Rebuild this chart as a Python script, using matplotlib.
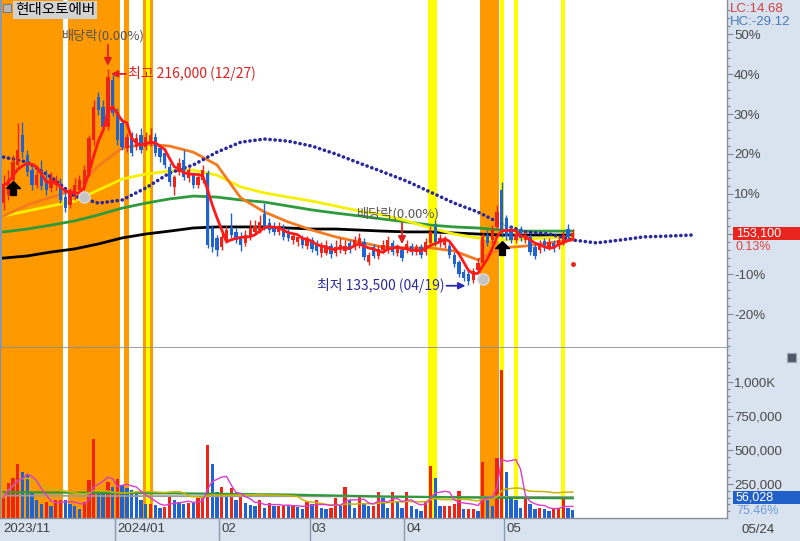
import numpy as np
import pandas as pd
import matplotlib
matplotlib.use("Agg")
import matplotlib.pyplot as plt
from matplotlib.patches import Rectangle
from matplotlib.transforms import offset_copy

plt.rcParams['font.family'] = ['Noto Sans CJK KR', 'DejaVu Sans']
NUM = ['Liberation Sans', 'DejaVu Sans']

# ---------------- data ----------------
stock_name = '현대오토에버'
holidays = ['2023-12-25', '2023-12-29', '2024-01-01', '2024-02-09', '2024-02-12',
            '2024-03-01', '2024-04-10', '2024-05-01', '2024-05-06', '2024-05-15']
dates = [d for d in pd.bdate_range('2023-11-24', '2024-05-24')
         if d.strftime('%Y-%m-%d') not in holidays]

opens = [164700, 167800, 173500, 179300, 190700, 183100, 177300, 171600, 176600, 173500,
         170500, 171600, 170900, 167000, 164000, 167800, 169700, 170900, 176200, 188800,
         205200, 201400, 193800, 211700, 199500, 195300, 185800, 189600, 186100, 190700,
         186100, 187700, 190000, 185800, 183800, 178500, 170900, 176600, 181200, 174300,
         175400, 171600, 173500, 176200, 155200, 151400, 147900, 150600, 155600, 153700,
         152100, 149500, 151800, 153700, 154400, 160500, 157100, 156000, 153700, 155200,
         153700, 150600, 149800, 151400, 148300, 150600, 149100, 145600, 145600, 148300,
         145600, 146800, 146400, 149500, 147900, 148700, 149800, 142200, 147900, 144500,
         146800, 146800, 149500, 145600, 146800, 146800, 148300, 146000, 147900, 146000,
         149500, 155600, 149500, 148700, 148300, 144900, 142200, 138400, 137600, 135300,
         139100, 141800, 152500, 150600, 155600, 169700, 159000, 154400, 150600, 154800,
         150600, 151800, 147900, 146800, 150200, 147900, 149500, 148300, 149800, 154800,
         151800]
highs = [175400, 177300, 183100, 195300, 195700, 185000, 179300, 177300, 181200, 177300,
         176600, 175400, 174300, 169700, 170500, 174300, 175400, 179300, 190700, 204100,
         207200, 204100, 216000, 213600, 201000, 197200, 191500, 191900, 191500, 193400,
         191900, 193400, 191500, 186900, 185800, 180000, 175400, 181900, 185000, 178500,
         176600, 176200, 179300, 177300, 156300, 152500, 153300, 155900, 160900, 155200,
         153700, 154400, 158200, 158200, 160200, 164700, 159000, 157500, 157500, 156700,
         155200, 153700, 153000, 152500, 152100, 151800, 150600, 149800, 150600, 149500,
         150600, 151400, 150600, 150600, 152100, 153300, 151400, 146000, 149100, 148700,
         150600, 152100, 150600, 149100, 147900, 150600, 149500, 149100, 149100, 151400,
         156000, 158200, 152900, 152100, 149500, 146000, 143000, 139500, 139100, 140000,
         143700, 153300, 154400, 156300, 164000, 172800, 160200, 155900, 154400, 156000,
         154100, 152900, 149100, 150600, 151400, 151400, 150600, 152100, 154100, 156700,
         154800]
lows = [162100, 165900, 171600, 178900, 182000, 175000, 169700, 170500, 169700, 167800,
        168900, 169700, 164700, 161300, 162800, 165900, 168500, 169700, 175000, 186900,
        198400, 192600, 192600, 198000, 186900, 185000, 184200, 182700, 185000, 183800,
        185000, 186500, 182700, 180400, 178100, 171200, 167800, 175400, 173500, 172800,
        170500, 170500, 172400, 147600, 146000, 144500, 146800, 149500, 151400, 149500,
        146400, 148300, 150600, 152500, 153300, 154400, 153300, 152500, 152500, 150600,
        150200, 149100, 148300, 147600, 147200, 146000, 144900, 144100, 144900, 143700,
        144500, 145600, 145200, 145600, 146800, 147600, 143000, 141100, 143700, 143300,
        145600, 145600, 144900, 144500, 142600, 145600, 144900, 144900, 143700, 144900,
        148300, 148300, 147900, 147600, 143700, 140300, 136500, 134900, 133500, 134200,
        137900, 140700, 148300, 149500, 154800, 151800, 150600, 149500, 149500, 150200,
        149500, 144900, 143300, 145600, 146400, 146800, 146000, 147200, 148700, 150600,
        150600]
closes = [171600, 173500, 180400, 185000, 184200, 176600, 171600, 175400, 171200, 169700,
          174300, 173500, 165900, 162800, 168900, 171600, 173500, 177300, 189600, 201400,
          200300, 193800, 212900, 199100, 188800, 186100, 190000, 183800, 189600, 185000,
          190000, 190700, 183800, 182300, 179300, 172800, 174700, 180000, 174700, 177300,
          171600, 174700, 177300, 148700, 147900, 146800, 151800, 154400, 152500, 150600,
          148700, 152500, 155200, 156000, 157500, 155600, 154400, 153700, 156000, 151800,
          151400, 152100, 151800, 148700, 150600, 147200, 146400, 148300, 147900, 145200,
          147900, 148700, 148300, 146800, 150600, 151400, 144100, 144900, 144500, 147200,
          148700, 150600, 146000, 147600, 143700, 149100, 146000, 147900, 144900, 149800,
          153700, 149800, 151400, 150600, 144900, 141500, 137600, 136100, 134900, 138800,
          141800, 151800, 149500, 154400, 161300, 153700, 152100, 150600, 152900, 151400,
          152500, 146000, 144500, 149500, 147600, 149800, 147200, 150600, 152500, 151800,
          153100]
volumes = [150000, 260000, 295000, 395000, 340000, 318000, 182000, 130000, 106000, 114000,
           91000, 129000, 136000, 129000, 106000, 91000, 68000, 120000, 280000, 583000,
           190000, 182000, 265000, 227000, 288000, 240000, 220000, 205000, 190000, 129000,
           106000, 106000, 95000, 76000, 83000, 151000, 136000, 114000, 106000, 110000,
           108000, 144000, 151000, 538000, 400000, 190000, 227000, 175000, 220000, 130000,
           151000, 110000, 95000, 86000, 129000, 76000, 110000, 91000, 91000, 95000,
           88000, 91000, 84000, 68000, 114000, 106000, 129000, 76000, 68000, 76000,
           144000, 91000, 227000, 129000, 76000, 151000, 106000, 91000, 91000, 190000,
           144000, 76000, 190000, 120000, 76000, 190000, 91000, 68000, 55000, 120000,
           386000, 295000, 91000, 91000, 91000, 106000, 197000, 68000, 68000, 68000,
           55000, 410000, 130000, 91000, 440000, 1090000, 340000, 150000, 130000, 76000,
           144000, 106000, 68000, 76000, 68000, 55000, 76000, 76000, 144000, 74250,
           56028]

ref_price = 152900            # 0 % line of the right-hand scale
ex_div_days = [22, 84]
buy_days, buy_prices = [2, 105], [170500, 147600]
sell_days, sell_prices = [17, 101], [167000, 135700]
stop_days, stop_prices = [120], [141400]

orange_bands = [(-1, 12), (14, 24), (26, 26), (30, 31), (101, 104)]
yellow_bands = [(30, 31), (90, 91), (105, 105), (108, 108), (118, 118)]

# moving averages every 5 sessions
ma_days = list(range(0, 121, 5))
ma_orange = [159800, 164000, 167000, 169700, 178900, 185800, 187300, 186500, 184200, 179300,
             166700, 161300, 157500, 154400, 151800, 149800, 147900, 147600, 147600, 146400,
             143000, 147600, 148300, 149500, 150600]
ma_yellow = [159800, 161700, 163600, 165500, 169700, 173900, 175800, 177000, 177300, 175400,
             170900, 168600, 167000, 165500, 163600, 161700, 160200, 157900, 155200, 152900,
             151400, 150600, 151000, 151400, 151800]
ma_green = [153700, 154800, 156300, 157900, 160200, 162800, 164700, 166300, 167400, 167000,
            165900, 165100, 163600, 162100, 160900, 159800, 158600, 157500, 156300, 155600,
            155200, 154400, 154000, 154000, 154000]
ma_black = [143700, 144500, 146000, 147200, 149100, 151400, 152900, 154000, 155200, 155600,
            155600, 155600, 155200, 154800, 154800, 154400, 154000, 153700, 153700, 153300,
            152900, 152500, 152500, 152500, 152500]
span_days = list(range(0, 146, 5))
span_line = [182300, 180400, 174700, 167400, 164700, 165900, 170500, 176200, 179300, 184200,
             188000, 189200, 188400, 186500, 183500, 180000, 176600, 173100, 168900, 164700,
             161300, 156700, 153700, 152900, 150600, 149500, 150600, 151800, 152100, 152500]
vol_ma_days = [0, 20, 40, 60, 80, 100, 120]
vol_ma_green = [190000, 185000, 180000, 172000, 158000, 150000, 145000]
vol_ma_gray = [165000, 162000, 160000, 160000, 157000, 155000, 155000]

lc_text, hc_text = 'LC:14.68', 'HC:-29.12'

# ---------------- colours ----------------
RED, BLUE = '#ee2418', '#1f63d0'
ORANGE, YELLOW = '#ff9900', '#ffff00'
PANEL = '#d9e3ef'
TXT = '#4a4a4a'

W, H = 800, 541


def box(x0, y0, x1, y1):
    return [x0 / W, 1 - y1 / H, (x1 - x0) / W, (y1 - y0) / H]


fig = plt.figure(figsize=(W / 100, H / 100), dpi=100, facecolor=PANEL)
ax = fig.add_axes(box(0, 0, 727, 348))
axv = fig.add_axes(box(0, 348, 727, 518), sharex=ax)
axx = fig.add_axes(box(0, 518, 727, 541), sharex=ax)

x = np.arange(len(closes))
o, h, l, c = map(np.array, (opens, highs, lows, closes))
vol = np.array(volumes)

# signal bands
for a, b in orange_bands:
    for axis in (ax, axv):
        axis.axvspan(a - 0.5, b + 0.5, color=ORANGE, lw=0, zorder=0)
for a, b in yellow_bands:
    inner = any(oa <= a and b <= ob for oa, ob in orange_bands)
    pad = 0.55 if inner else 0.05
    for axis in (ax, axv):
        axis.axvspan(a - 0.5 + pad, b + 0.5 - pad, color=YELLOW, lw=0, zorder=0.5)

# moving averages
ax.plot(ma_days, ma_black, color='black', lw=2, zorder=2)
ax.plot(ma_days, ma_green, color='#2f9a3c', lw=2, zorder=2)
ax.plot(ma_days, ma_yellow, color='#f4f000', lw=2, zorder=2)
ax.plot(ma_days, ma_orange, color='#f47a20', lw=2, zorder=2)
ax.plot(span_days, span_line, color='#2a2a9c', lw=2.6, ls=(0, (0.05, 1.35)),
        dash_capstyle='round', zorder=2.5)

# candles
up = c >= o
col = np.where(up, RED, BLUE)
ax.vlines(x, l, h, colors=col, lw=1, zorder=3)
ax.bar(x, np.maximum(np.abs(c - o), 350), bottom=np.minimum(o, c), width=0.7,
       color=col, lw=0, zorder=3.1)
ax.plot(x, pd.Series(c).rolling(5, min_periods=1).mean(), color='#ff1a1a', lw=2, zorder=4)

# signals
arrow_up = [(0, 1), (-1, 0), (-0.42, 0), (-0.42, -1), (0.42, -1), (0.42, 0), (1, 0), (0, 1)]
ax.plot(buy_days, buy_prices, ls='none', marker=arrow_up, ms=10, color='black', zorder=6)
ax.plot(sell_days, sell_prices, ls='none', marker='o', ms=8, color='#c4c4c4',
        mec='#dadada', zorder=6)
ax.plot(stop_days, stop_prices, ls='none', marker='o', ms=2.5, color=RED, zorder=6)

ax.set_xlim(-0.74, 152.5)
ax.set_ylim(ref_price * (1 - 0.285), ref_price * 1.585)

# ex-dividend markers
for d in ex_div_days:
    tip = offset_copy(ax.transData, fig=fig, x=0, y=3, units='dots')
    ax.annotate('', xy=(d, h[d]), xycoords=tip, xytext=(0, 21), textcoords='offset pixels',
                arrowprops=dict(arrowstyle='-|>', color='#e02020', lw=1.3,
                                mutation_scale=11, shrinkA=0, shrinkB=0), zorder=7)
    ax.annotate('배당락(0.00%)', xy=(d, h[d]), xycoords=tip, xytext=(-4, 30),
                textcoords='offset pixels', ha='center', va='center', fontsize=9.5,
                color='#555555', zorder=7)

# high / low
hi_day, lo_day = int(np.argmax(h)), int(np.argmin(l))
t_hi = offset_copy(ax.transData, fig=fig, x=3, y=-5, units='dots')
ax.annotate('', xy=(hi_day, h[hi_day]), xycoords=t_hi, xytext=(15, 0),
            textcoords='offset pixels',
            arrowprops=dict(arrowstyle='-|>', color='#e02020', lw=1.3, mutation_scale=10,
                            shrinkA=0, shrinkB=0), zorder=7)
ax.annotate(f'최고 {h[hi_day]:,} ({dates[hi_day]:%m/%d})', xy=(hi_day, h[hi_day]),
            xycoords=t_hi, xytext=(17, 0), textcoords='offset pixels', ha='left',
            va='center', fontsize=10, color='#e02020', zorder=7)
t_lo = offset_copy(ax.transData, fig=fig, x=-3, y=-1, units='dots')
ax.annotate('', xy=(lo_day, l[lo_day]), xycoords=t_lo, xytext=(-19, 0),
            textcoords='offset pixels',
            arrowprops=dict(arrowstyle='-|>', color='#2b2bb0', lw=1.3, mutation_scale=10,
                            shrinkA=0, shrinkB=0), zorder=7)
ax.annotate(f'최저 {l[lo_day]:,} ({dates[lo_day]:%m/%d})', xy=(lo_day, l[lo_day]),
            xycoords=t_lo, xytext=(-21, 0), textcoords='offset pixels', ha='right',
            va='center', fontsize=10, color='#2b2b9b', zorder=7)

# price scale (percent of reference); the 0 % label sits under the last-price box
pct = np.arange(-20, 51, 10)
ax.yaxis.tick_right()
ax.set_yticks(ref_price * (1 + pct / 100))
ax.set_yticklabels(['' if p == 0 else f'{p}%' for p in pct], family=NUM)
ax.set_yticks(ref_price * (1 + np.arange(-28, 58, 2) / 100), minor=True)
ax.tick_params(axis='y', which='major', length=4, width=0.8, color='#7d8896',
               labelsize=9.5, labelcolor=TXT, pad=1)
ax.tick_params(axis='y', which='minor', length=2.5, width=0.8, color='#7d8896')
ax.tick_params(axis='x', which='both', bottom=False, labelbottom=False)

# volume
vcol = [RED] + [RED if vol[i] >= vol[i - 1] else BLUE for i in range(1, len(vol))]
axv.bar(x, vol, width=0.7, color=vcol, lw=0, zorder=2)
axv.plot(vol_ma_days, vol_ma_gray, color='#9c9c9c', lw=1.3, zorder=3)
axv.plot(vol_ma_days, vol_ma_green, color='#2f9a3c', lw=1.6, zorder=3)
axv.plot(x, pd.Series(vol).rolling(20, min_periods=1).mean(), color='#c9b400', lw=1.1, zorder=3)
axv.plot(x, pd.Series(vol).rolling(5, min_periods=1).mean(), color='#d83cd0', lw=1.0, zorder=3)
axv.set_ylim(0, 1250000)
vt = [250000, 500000, 750000, 1000000]
axv.yaxis.tick_right()
axv.set_yticks(vt)
axv.set_yticklabels(['250,000', '500,000', '750,000', '1,000K'], family=NUM)
axv.set_yticks(np.arange(50000, 1250000, 50000), minor=True)
axv.tick_params(axis='y', which='major', length=4, width=0.8, color='#7d8896',
                labelsize=9.5, labelcolor=TXT, pad=1)
axv.tick_params(axis='y', which='minor', length=2.5, width=0.8, color='#7d8896')
axv.tick_params(axis='x', which='both', bottom=False, labelbottom=False)

for axis in (ax, axv):
    axis.set_facecolor('white')
    for s in axis.spines.values():
        s.set_color('#8a8f98')
        s.set_linewidth(1)
ax.spines['left'].set_color('#8898b0')
ax.spines['left'].set_linewidth(2)
ax.spines['top'].set_visible(False)
ax.spines['bottom'].set_linewidth(1.2)
axv.spines['top'].set_visible(False)

# date strip: skip a month label that would sit too close to the previous one
axx.set_facecolor(PANEL)
axx.set_ylim(0, 1)
axx.axis('off')
month_starts = [0] + [i for i in range(1, len(dates)) if dates[i].month != dates[i - 1].month]
shown = []
for i in month_starts:
    if shown and i - shown[-1] < 12:
        continue
    shown.append(i)
for k, i in enumerate(shown):
    d = dates[i]
    lab = d.strftime('%Y/%m') if (k == 0 or d.month == 1) else d.strftime('%m')
    if k > 0:
        axx.axvline(i - 0.5, color='#8a9ab0', lw=1)
    axx.annotate(lab, xy=(i - 0.5, 0.5), xytext=(2, 0), textcoords='offset pixels',
                 ha='left', va='center', fontsize=9.5, color='#404040', family=NUM)
fig.text(741 / W, 1 - 530 / H, f'{dates[-1]:%m/%d}', fontsize=9.5, color='#404040',
         va='center', family=NUM)

# title
fig.patches.append(Rectangle((3 / W, 1 - 12 / H), 8 / W, 8 / H, transform=fig.transFigure,
                             fc='#b8b8b8', ec='#7a7a7a', lw=0.8))
fig.text(15 / W, 1 - 10 / H, stock_name, fontsize=10.5, va='center', color='black',
         bbox=dict(boxstyle='square,pad=0.15', fc='#d2d2d2', ec='none'))

# right column texts
fig.text(730 / W, 1 - 9 / H, lc_text, fontsize=9.5, color='#d04040', va='center', family=NUM)
fig.text(730 / W, 1 - 22 / H, hc_text, fontsize=9.5, color='#4a78b8', va='center', family=NUM)

y_last = ax.transData.transform((0, c[-1]))[1] / fig.bbox.height
fig.patches.append(Rectangle((733 / W, y_last - 6.5 / H), 67 / W, 13 / H,
                             transform=fig.transFigure, fc='#e8251e', ec='none'))
fig.text(736 / W, y_last, f'{c[-1]:,}', fontsize=9, color='white', va='center', family=NUM)
fig.text(736 / W, y_last - 14 / H, f'{(c[-1] / ref_price - 1) * 100:.2f}%', fontsize=9,
         color='#e04040', va='center', family=NUM)

fig.patches.append(Rectangle((733 / W, 1 - 504 / H), 67 / W, 13 / H,
                             transform=fig.transFigure, fc='#2060c8', ec='none'))
fig.text(736 / W, 1 - 497.5 / H, f'{vol[-1]:,}', fontsize=9, color='white', va='center',
         family=NUM)
fig.text(736 / W, 1 - 511.5 / H, f'{vol[-1] / vol[-2] * 100:.2f}%', fontsize=9,
         color='#6b9bd8', va='center', family=NUM)
fig.patches.append(Rectangle((787 / W, 1 - 362 / H), 9 / W, 9 / H, transform=fig.transFigure,
                             fc='#4e5868', ec='#9aa4b0', lw=0.8))

fig.savefig('out.png', dpi=100, facecolor=PANEL)
